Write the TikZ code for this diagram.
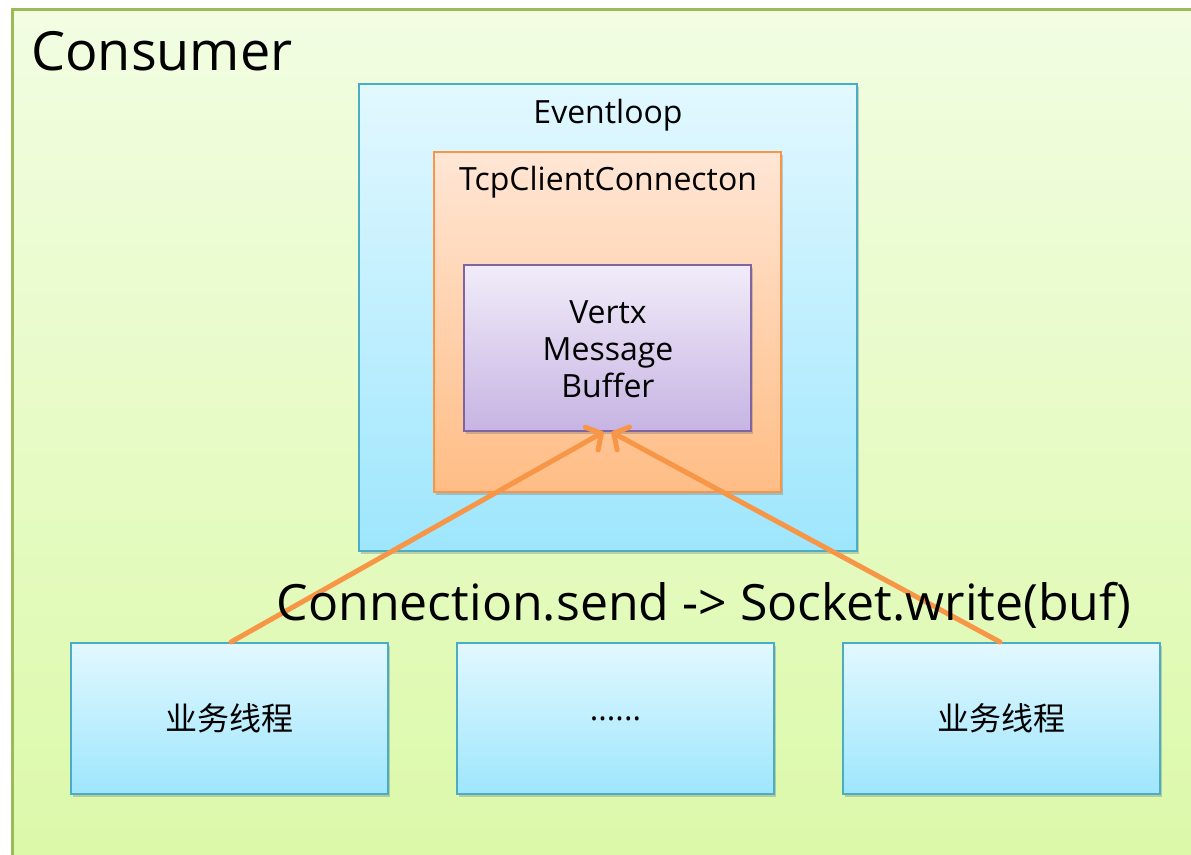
\documentclass[tikz,border=0pt]{standalone}
\usepackage{fontspec}
\setmainfont{Open Sans}
\newfontfamily\cjk{Noto Sans CJK SC}
\usetikzlibrary{arrows.meta,shadows}

\definecolor{outerfillA}{HTML}{F2FDE2}
\definecolor{outerfillB}{HTML}{DBF9A8}
\definecolor{outerline}{HTML}{9BBB59}
\definecolor{cyanA}{HTML}{E2F8FF}
\definecolor{cyanB}{HTML}{9EE6FD}
\definecolor{cyanline}{HTML}{4BACC6}
\definecolor{orangeA}{HTML}{FFE6D5}
\definecolor{orangeB}{HTML}{FFBD85}
\definecolor{orangeline}{HTML}{F79646}
\definecolor{purpleA}{HTML}{F1ECF9}
\definecolor{purpleB}{HTML}{C7B4E3}
\definecolor{purpleline}{HTML}{8064A2}

\tikzset{
  boxshadow/.style={drop shadow={shadow xshift=2pt,shadow yshift=-3pt,opacity=0.3,fill=black!60}},
  cyanbox/.style={rectangle,draw=cyanline,line width=2pt,top color=cyanA,bottom color=cyanB,boxshadow,inner sep=0pt},
  orangebox/.style={rectangle,draw=orangeline,line width=2pt,top color=orangeA,bottom color=orangeB,boxshadow,inner sep=0pt},
  purplebox/.style={rectangle,draw=purpleline,line width=2pt,top color=purpleA,bottom color=purpleB,boxshadow,inner sep=0pt},
  midtext/.style={font=\fontsize{32}{37}\selectfont,inner sep=0pt},
  flow/.style={draw=orangeline,line width=5pt,line cap=round,
    -{Straight Barb[length=11pt,width=26pt,line cap=round,line join=round]}},
}

\begin{document}
\begin{tikzpicture}[x=1pt,y=-1pt]
\useasboundingbox (0,0) rectangle (1191,854);
\fill[white] (0,0) rectangle (1191,854);
\clip (0,0) rectangle (1191,854);

% outer container, running past the right and bottom edges
\node[rectangle,anchor=north west,minimum width=1200pt,minimum height=870pt,
      draw=outerline,line width=3pt,top color=outerfillA,bottom color=outerfillB,inner sep=0pt]
      (consumer) at (11,8) {};
\node[anchor=base west,inner sep=0pt,font=\fontsize{54}{60}\selectfont] (consumerlabel) at (31,70) {Consumer};

% event loop and nested connection / buffer
\node[cyanbox,minimum width=498pt,minimum height=467pt] (loop) at (608,317.5) {};
\node[midtext,anchor=base] (looplabel) at (608,123) {Eventloop};

\node[orangebox,minimum width=347pt,minimum height=340pt] (conn) at (607.5,322) {};
\node[midtext,anchor=base] (connlabel) at (608,190) {TcpClientConnecton};

\node[purplebox,minimum width=287pt,minimum height=166pt] (buf) at (607.5,348) {};
\node[midtext,anchor=base,align=center] (buflabel) at (608,397) {Vertx\\Message\\Buffer};

% worker threads
\node[cyanbox,minimum width=317pt,minimum height=151pt] (w1) at (229.5,718.5) {};
\node[cyanbox,minimum width=317pt,minimum height=151pt] (w2) at (615.5,718.5) {};
\node[cyanbox,minimum width=317pt,minimum height=151pt] (w3) at (1001.5,718.5) {};
\node[midtext,font=\cjk\fontsize{32}{37}\selectfont] (w1label) at (w1) {业务线程};
\node[midtext] (w2label) at (w2) {......};
\node[midtext,font=\cjk\fontsize{32}{37}\selectfont] (w3label) at (w3) {业务线程};

% writes from the worker threads into the buffer
\draw[flow] ([xshift=1.5pt]w1.north) -- ([xshift=-4pt]buf.south);
\draw[flow] ([xshift=-1.5pt]w3.north) -- ([xshift=4pt]buf.south);

\node[anchor=base,inner sep=0pt,font=\fontsize{50}{56}\selectfont] (sendlabel) at (704,620)
  {Connection.send -> Socket.write(buf)};
\end{tikzpicture}
\end{document}
